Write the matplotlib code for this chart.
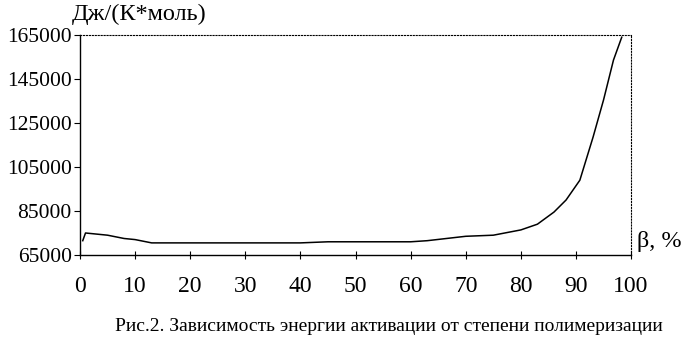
import matplotlib.pyplot as plt
import numpy as np

plt.rcParams['font.family'] = ['Liberation Serif', 'DejaVu Serif']

# степень полимеризации, %
beta = [0.5, 1, 5, 8, 10, 13, 20, 30, 40, 45, 50, 60, 63, 70, 75, 80, 83,
        86, 88.2, 90.7, 93.1, 95, 96.8, 98.3]
# энергия активации, Дж/(К*моль)
energy = [71500, 75000, 74000, 72500, 72000, 70500, 70500, 70500, 70500,
          71000, 71000, 71000, 71500, 73500, 74000, 76400, 79000,
          84500, 90000, 99000, 118600, 135500, 153600, 164000]

x_ticks = [0, 10, 20, 30, 40, 50, 60, 70, 80, 90, 100]
y_ticks = [65000, 85000, 105000, 125000, 145000, 165000]

fig = plt.figure(figsize=(6.92, 3.38), dpi=100)
ax = fig.add_axes([0.1156, 0.2456, 0.7964, 0.6508])

ax.plot(beta, energy, color='black', lw=1.1)

ax.set_xlim(0, 100)
ax.set_ylim(65000, 165000)
ax.set_xticks(x_ticks)
ax.set_yticks(y_ticks)
ax.tick_params(axis='x', direction='inout', length=6, labelsize=17, pad=12)
ax.tick_params(axis='y', direction='out', length=4, labelsize=15.5, pad=2)

for side in ['top', 'right']:
    ax.spines[side].set_linestyle(':')
    ax.spines[side].set_linewidth(0.8)
for side in ['left', 'bottom']:
    ax.spines[side].set_linewidth(1.0)

fig.text(0.104, 0.958, 'Дж/(К*моль)', fontsize=17.5, ha='left', va='center')
fig.text(0.921, 0.285, 'β, %', fontsize=17.5, ha='left', va='center')
fig.text(0.562, 0.035, 'Рис.2. Зависимость энергии активации от степени полимеризации',
         fontsize=14, ha='center', va='center')

fig.savefig('out.png', dpi=100)
